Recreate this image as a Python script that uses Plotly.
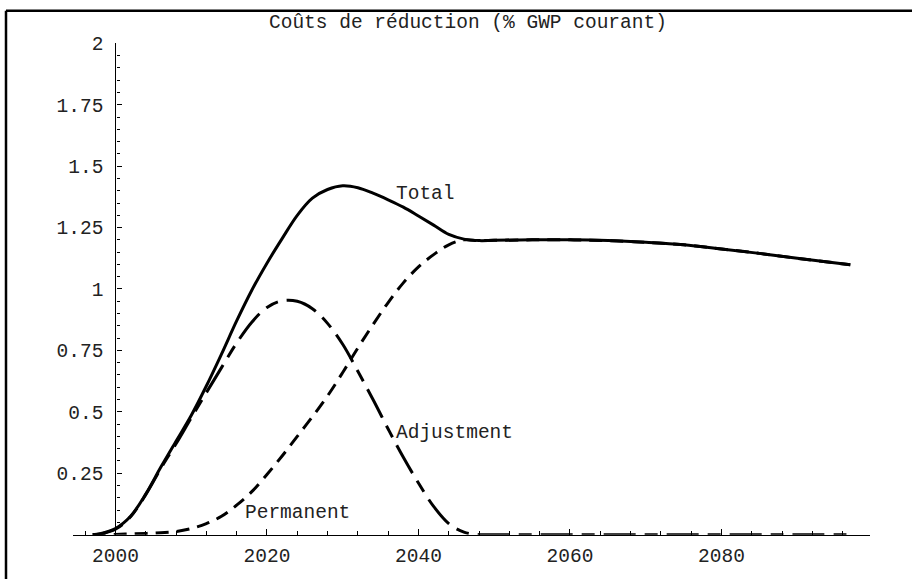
import plotly.graph_objects as go

# Abatement costs, % of current GWP
years = [1997, 1998, 2000, 2002, 2004, 2006, 2008, 2010, 2012, 2014, 2016, 2018,
         2020, 2022, 2024, 2026, 2028, 2030, 2032, 2034, 2036, 2038, 2040, 2042,
         2044, 2046, 2048, 2050, 2055, 2060, 2065, 2070, 2075, 2080, 2085, 2090, 2097]

total = [0.0, 0.004, 0.025, 0.075, 0.165, 0.275, 0.38, 0.485, 0.605, 0.735, 0.87, 0.995,
         1.105, 1.205, 1.30, 1.37, 1.405, 1.42, 1.412, 1.39, 1.363, 1.333, 1.297, 1.26,
         1.222, 1.203, 1.197, 1.198, 1.2, 1.2, 1.197, 1.19, 1.18, 1.163, 1.145, 1.125, 1.099]

adjustment = [0.0, 0.003, 0.022, 0.073, 0.163, 0.27, 0.37, 0.475, 0.578, 0.68, 0.78, 0.865,
              0.925, 0.952, 0.95, 0.92, 0.86, 0.775, 0.665, 0.55, 0.43, 0.315, 0.21, 0.115,
              0.045, 0.01, 0.0, 0.0, 0.0, 0.0, 0.0, 0.0, 0.0, 0.0, 0.0, 0.0, 0.0]

permanent = [0.0, 0.0, 0.001, 0.003, 0.005, 0.008, 0.013, 0.025, 0.045, 0.075, 0.12, 0.175,
             0.245, 0.32, 0.40, 0.48, 0.565, 0.66, 0.76, 0.855, 0.945, 1.025, 1.09, 1.14,
             1.18, 1.2, 1.197, 1.198, 1.2, 1.2, 1.197, 1.19, 1.18, 1.163, 1.145, 1.125, 1.099]

y_ticks = [0.25, 0.5, 0.75, 1, 1.25, 1.5, 1.75, 2]
y_tick_text = ["0.25", "0.5", "0.75", "1", "1.25", "1.5", "1.75", "2"]
x_ticks = [2000, 2020, 2040, 2060, 2080]
x_tick_text = ["2000", "2020", "2040", "2060", "2080"]

title_text = "Coûts de réduction (% GWP courant)"
curve_labels = [("Total", 2040.9, 1.388), ("Adjustment", 2044.7, 0.414), ("Permanent", 2024.0, 0.089)]

W, H = 912, 579
FONT = "Liberation Mono, Courier New, monospace"
FS = 19.5


def py(px_from_top):
    """Vertical position (pixels from the top of the page) -> paper fraction."""
    fig_px = (px_from_top - 8.3) / 0.9864
    return 1 - fig_px / H


x_range = [1994.4, 2099.6]
y_range = [0, 2]
x_dom = [73 / W, 870 / W]
y_dom = [py(535), py(42.7)]
yaxis_pos = x_dom[0] + (2000 - x_range[0]) / (x_range[1] - x_range[0]) * (x_dom[1] - x_dom[0])

line_style = dict(color="black", width=3, shape="spline", smoothing=1.0)

fig = go.Figure()
fig.add_trace(go.Scatter(x=years, y=permanent, mode="lines", name="Permanent",
                         line=dict(line_style, dash="13px,8px")))
fig.add_trace(go.Scatter(x=years, y=adjustment, mode="lines", name="Adjustment",
                         line=dict(line_style, dash="32px,9px,13px,9px")))
fig.add_trace(go.Scatter(x=years, y=total, mode="lines", name="Total", line=line_style))

for text, xv, yv in curve_labels:
    fig.add_annotation(x=xv, y=yv, text=text, showarrow=False, xanchor="center", yanchor="middle",
                       font=dict(family=FONT, size=FS, color="#222"))

fig.add_annotation(x=468 / W, y=py(22), xref="paper", yref="paper", text=title_text,
                   showarrow=False, xanchor="center", yanchor="middle",
                   font=dict(family=FONT, size=FS, color="#222"))

# outer frame (top and left edges)
fig.add_shape(type="line", xref="paper", yref="paper", x0=6 / W, x1=1.0, y0=py(10), y1=py(10),
              line=dict(color="black", width=2.5))
fig.add_shape(type="line", xref="paper", yref="paper", x0=6 / W, x1=6 / W, y0=py(10), y1=0,
              line=dict(color="black", width=2.5))

fig.update_layout(
    width=W, height=H, autosize=False, margin=dict(l=0, r=0, t=0, b=0, pad=0),
    paper_bgcolor="white", plot_bgcolor="white", showlegend=False,
    xaxis=dict(domain=x_dom, range=x_range, showgrid=False, zeroline=False,
               showline=True, linecolor="black", linewidth=1.2,
               tickmode="array", tickvals=x_ticks, ticktext=x_tick_text,
               ticks="inside", ticklen=6, tickwidth=1.2, tickcolor="black",
               ticklabelstandoff=3,
               tickfont=dict(family=FONT, size=FS, color="#222"),
               minor=dict(tickmode="linear", tick0=2000, dtick=4, ticks="inside", ticklen=3.5,
                          tickwidth=1, tickcolor="black", showgrid=False)),
    yaxis=dict(domain=y_dom, range=y_range, anchor="free", position=yaxis_pos,
               showgrid=False, zeroline=False,
               showline=True, linecolor="black", linewidth=1.2,
               tickmode="array", tickvals=y_ticks, ticktext=y_tick_text,
               ticks="inside", ticklen=5, tickwidth=1.2, tickcolor="black",
               ticklabelstandoff=8,
               tickfont=dict(family=FONT, size=FS, color="#222"),
               minor=dict(tickmode="linear", tick0=0, dtick=0.05, ticks="inside", ticklen=3,
                          tickwidth=1, tickcolor="black", showgrid=False)),
)

fig.write_html("out.html")
